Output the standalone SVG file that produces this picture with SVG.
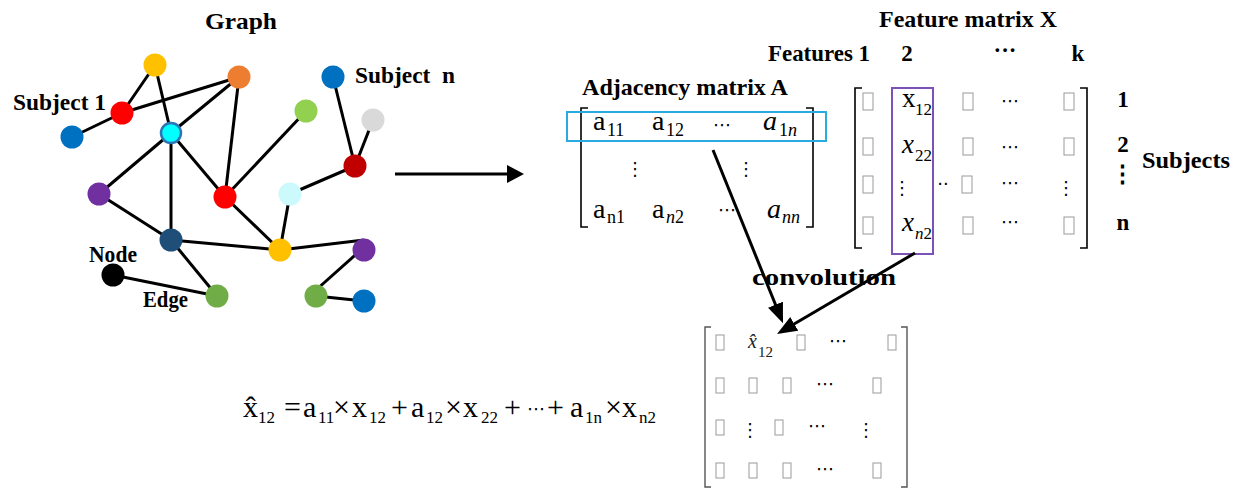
<svg xmlns="http://www.w3.org/2000/svg" width="1239" height="489" viewBox="0 0 1239 489">
<style>
.lbl{font-family:"Liberation Serif",serif;font-weight:bold;font-size:23px;fill:#000}
.m{font-family:"Liberation Serif",serif;font-size:28px;fill:#000}
.ms{font-family:"Liberation Serif",serif;font-size:18px;fill:#000}
.f{font-family:"Liberation Serif",serif;font-size:27px;fill:#000}
.fs{font-family:"Liberation Serif",serif;font-size:17px;fill:#000}
.q{font-family:"Liberation Serif",serif;font-size:30px;fill:#000}
.r{font-family:"Liberation Serif",serif;font-size:20px;fill:#222}
.rs{font-family:"Liberation Serif",serif;font-size:15px;fill:#222}
.dots{font-family:"DejaVu Sans",sans-serif;font-size:18px;fill:#000}
.it{font-style:italic}
.edge{stroke:#000;stroke-width:3;fill:none}
.br{stroke:#000;stroke-width:1.6;fill:none}
.brg{stroke:#555;stroke-width:1.4;fill:none}
.tf{fill:none;stroke:#9a9a9a;stroke-width:1}
.arr{stroke:#000;stroke-width:3;fill:none}
</style>
<defs>
<marker id="ah" markerUnits="userSpaceOnUse" markerWidth="20" markerHeight="20" refX="13" refY="9" orient="auto">
<path d="M0,0 L17,9 L0,18 z" fill="#000"/>
</marker>
<marker id="ah2" markerUnits="userSpaceOnUse" markerWidth="24" markerHeight="22" refX="16" refY="8" orient="auto">
<path d="M0,0 L20,8 L0,16 z" fill="#000"/>
</marker>
</defs>
<rect width="1239" height="489" fill="#fff"/>

<!-- Graph labels -->
<text class="lbl" x="205" y="29" textLength="72" lengthAdjust="spacingAndGlyphs">Graph</text>
<text class="lbl" x="13" y="110" textLength="93" lengthAdjust="spacingAndGlyphs">Subject 1</text>
<text class="lbl" x="355" y="83" textLength="100" lengthAdjust="spacingAndGlyphs" xml:space="preserve">Subject  n</text>
<text class="lbl" x="89" y="262" textLength="48" lengthAdjust="spacingAndGlyphs">Node</text>
<text class="lbl" x="143" y="307" textLength="45" lengthAdjust="spacingAndGlyphs">Edge</text>

<g id="edges">
<line class="edge" x1="155" y1="65" x2="122" y2="113"/>
<line class="edge" x1="155" y1="65" x2="171" y2="133"/>
<line class="edge" x1="122" y1="113" x2="239" y2="77"/>
<line class="edge" x1="122" y1="113" x2="72" y2="137"/>
<line class="edge" x1="239" y1="77" x2="171" y2="133"/>
<line class="edge" x1="239" y1="77" x2="225" y2="197"/>
<line class="edge" x1="171" y1="133" x2="99" y2="194"/>
<line class="edge" x1="171" y1="133" x2="171" y2="240"/>
<line class="edge" x1="171" y1="133" x2="225" y2="197"/>
<line class="edge" x1="306" y1="111" x2="225" y2="197"/>
<line class="edge" x1="333" y1="77" x2="355" y2="166"/>
<line class="edge" x1="373" y1="120" x2="355" y2="166"/>
<line class="edge" x1="355" y1="166" x2="290" y2="194"/>
<line class="edge" x1="290" y1="194" x2="280" y2="250"/>
<line class="edge" x1="225" y1="197" x2="280" y2="250"/>
<line class="edge" x1="99" y1="194" x2="171" y2="240"/>
<line class="edge" x1="171" y1="240" x2="280" y2="250"/>
<line class="edge" x1="171" y1="240" x2="217" y2="296"/>
<line class="edge" x1="113" y1="275" x2="217" y2="296"/>
<line class="edge" x1="280" y1="250" x2="364" y2="240"/>
<line class="edge" x1="362" y1="249" x2="316" y2="290"/>
<line class="edge" x1="316" y1="296" x2="364" y2="301"/>
</g>

<g id="n-yellow-top"><circle cx="155" cy="65" r="11.5" fill="#FFC000"/></g>
<g id="n-orange"><circle cx="239" cy="77" r="11.5" fill="#ED7D31"/></g>
<g id="n-subject1"><circle cx="122" cy="113" r="11.5" fill="#FF0000"/></g>
<g id="n-blue-left"><circle cx="72" cy="137" r="11.5" fill="#0070C0"/></g>
<g id="n-cyan"><circle cx="171" cy="133" r="10" fill="#00FFFF" stroke="#2E75B6" stroke-width="2.5"/></g>
<g id="n-lightgreen"><circle cx="306" cy="111" r="11.5" fill="#92D050"/></g>
<g id="n-subjectn"><circle cx="333" cy="77" r="11.5" fill="#0070C0"/></g>
<g id="n-gray"><circle cx="373" cy="120" r="11.5" fill="#D9D9D9"/></g>
<g id="n-darkred"><circle cx="355" cy="166" r="11.5" fill="#C00000"/></g>
<g id="n-lightcyan"><circle cx="290" cy="194" r="11.5" fill="#CCF9FC"/></g>
<g id="n-red-mid"><circle cx="225" cy="197" r="11.5" fill="#FF0000"/></g>
<g id="n-purple-left"><circle cx="99" cy="194" r="11.5" fill="#7030A0"/></g>
<g id="n-navy"><circle cx="171" cy="240" r="11.5" fill="#1F4E79"/></g>
<g id="n-yellow-bottom"><circle cx="280" cy="250" r="11.5" fill="#FFC000"/></g>
<g id="n-purple-right"><circle cx="364" cy="250" r="11.5" fill="#7030A0"/></g>
<g id="n-black"><circle cx="113" cy="275" r="11.5" fill="#000"/></g>
<g id="n-green-bottom"><circle cx="217" cy="296" r="11.5" fill="#70AD47"/></g>
<g id="n-green-right"><circle cx="316" cy="296" r="11.5" fill="#70AD47"/></g>
<g id="n-blue-br"><circle cx="364" cy="301" r="11.5" fill="#0070C0"/></g>

<!-- Adjacency matrix -->
<g id="adjacency">
<text class="lbl" x="582" y="95" textLength="206" lengthAdjust="spacingAndGlyphs">Adjacency matrix A</text>
<path class="br" d="M588,108 H581 V227 H588"/>
<path class="br" d="M806,108 H813 V227 H806"/>
<rect x="567" y="112" width="259" height="29" fill="none" stroke="#29ABE2" stroke-width="2"/>
<text class="m" x="593" y="130">a</text><text class="ms" x="607" y="136">11</text>
<text class="m" x="652" y="130">a</text><text class="ms" x="666" y="136">12</text>
<text class="dots" x="722" y="131" text-anchor="middle" font-size="22">⋯</text>
<text class="m it" x="763" y="130">a</text><text class="ms" x="779" y="136">1<tspan class="it">n</tspan></text>
<text class="dots" x="635" y="175" text-anchor="middle" font-size="24">⋮</text>
<text class="dots" x="746" y="175" text-anchor="middle" font-size="24">⋮</text>
<text class="m" x="593" y="218">a</text><text class="ms" x="607" y="223">n1</text>
<text class="m" x="652" y="218">a</text><text class="ms it" x="666" y="223">n<tspan font-style="normal">2</tspan></text>
<text class="dots" x="727" y="216" text-anchor="middle" font-size="22">⋯</text>
<text class="m it" x="767" y="218">a</text><text class="ms it" x="782" y="223">nn</text>
</g>

<!-- Feature matrix -->
<g id="feature">
<text class="lbl" x="879" y="27" textLength="178" lengthAdjust="spacingAndGlyphs">Feature matrix X</text>
<text class="lbl" x="768" y="61" textLength="102" lengthAdjust="spacingAndGlyphs">Features 1</text>
<text class="lbl" x="907" y="61" text-anchor="middle">2</text>
<text class="lbl" x="1005" y="58" text-anchor="middle">···</text>
<text class="lbl" x="1078" y="61" text-anchor="middle">k</text>
<path class="br" d="M862,88 H855 V248 H862"/>
<path class="br" d="M1080,88 H1087 V248 H1080"/>
<rect x="892" y="88" width="41" height="166" fill="none" stroke="#7D52B8" stroke-width="2"/>
<rect class="tf" x="863" y="93" width="10" height="17"/>
<rect class="tf" x="963" y="93" width="10" height="17"/>
<rect class="tf" x="1064" y="93" width="10" height="17"/>
<rect class="tf" x="863" y="138" width="10" height="17"/>
<rect class="tf" x="963" y="138" width="10" height="17"/>
<rect class="tf" x="1064" y="138" width="10" height="17"/>
<rect class="tf" x="863" y="176" width="10" height="17"/>
<rect class="tf" x="962" y="176" width="10" height="17"/>
<rect class="tf" x="863" y="217" width="10" height="17"/>
<rect class="tf" x="963" y="217" width="10" height="17"/>
<rect class="tf" x="1064" y="217" width="10" height="17"/>
<text class="f" x="902" y="107">x</text><text class="fs" x="915" y="115">12</text>
<text class="f it" x="902" y="153">x</text><text class="fs" x="915" y="161">22</text>
<text class="f it" x="902" y="231">x</text><text class="fs" x="915" y="239"><tspan class="it">n</tspan>2</text>
<text class="dots" x="1010" y="107" text-anchor="middle" font-size="22">⋯</text>
<text class="dots" x="1010" y="153" text-anchor="middle" font-size="22">⋯</text>
<text class="dots" x="1010" y="189" text-anchor="middle" font-size="22">⋯</text>
<text class="dots" x="1010" y="228" text-anchor="middle" font-size="22">⋯</text>
<text class="dots" x="902" y="194" text-anchor="middle" font-size="22">⋮</text>
<text class="dots" x="943" y="190" text-anchor="middle">··</text>
<text class="dots" x="1066" y="194" text-anchor="middle" font-size="22">⋮</text>
<text class="lbl" x="1123" y="107" text-anchor="middle">1</text>
<text class="lbl" x="1123" y="152" text-anchor="middle">2</text>
<text class="lbl" x="1122" y="181" text-anchor="middle" font-family="DejaVu Sans">⋮</text>
<text class="lbl" x="1123" y="230" text-anchor="middle">n</text>
<text class="lbl" x="1142" y="168" textLength="88" lengthAdjust="spacingAndGlyphs">Subjects</text>
</g>

<!-- Result matrix -->
<g id="result">
<text class="lbl" x="752" y="285" font-size="30" textLength="144" lengthAdjust="spacingAndGlyphs">convolution</text>
<path class="brg" d="M711,327 H705 V487 H711"/>
<path class="brg" d="M901,327 H907 V487 H901"/>
<rect class="tf" x="716" y="335" width="8" height="15"/>
<text class="r it" x="748" y="348">x̂</text><text class="rs" x="758" y="357">12</text>
<rect class="tf" x="797" y="335" width="8" height="15"/>
<text class="dots" x="838" y="347" font-size="14" text-anchor="middle">⋯</text>
<rect class="tf" x="888" y="335" width="8" height="15"/>
<rect class="tf" x="716" y="378" width="8" height="15"/>
<rect class="tf" x="749" y="378" width="8" height="15"/>
<rect class="tf" x="783" y="378" width="8" height="15"/>
<text class="dots" x="825" y="390" font-size="14" text-anchor="middle">⋯</text>
<rect class="tf" x="873" y="378" width="8" height="15"/>
<rect class="tf" x="716" y="420" width="8" height="15"/>
<text class="dots" x="750" y="436" font-size="16" text-anchor="middle">⋮</text>
<rect class="tf" x="775" y="420" width="8" height="15"/>
<text class="dots" x="817" y="432" font-size="14" text-anchor="middle">⋯</text>
<text class="dots" x="866" y="436" font-size="16" text-anchor="middle">⋮</text>
<rect class="tf" x="716" y="463" width="8" height="15"/>
<rect class="tf" x="749" y="463" width="8" height="15"/>
<rect class="tf" x="783" y="463" width="8" height="15"/>
<text class="dots" x="825" y="475" font-size="14" text-anchor="middle">⋯</text>
<rect class="tf" x="873" y="463" width="8" height="15"/>
</g>

<!-- Formula -->
<g id="formula">
<text class="q" x="243" y="417">x̂</text><text class="fs" x="258" y="423">12</text>
<text class="q" x="284" y="417">=</text>
<text class="q" x="303" y="417">a</text><text class="fs" x="318" y="423">11</text>
<text class="q" x="333" y="417">×</text>
<text class="q" x="352" y="417">x</text><text class="fs" x="369" y="423">12</text>
<text class="q" x="391" y="417">+</text>
<text class="q" x="411" y="417">a</text><text class="fs" x="426" y="423">12</text>
<text class="q" x="445" y="417">×</text>
<text class="q" x="463" y="417">x</text><text class="fs" x="481" y="423">22</text>
<text class="q" x="504" y="417">+</text>
<text class="dots" x="536" y="415" text-anchor="middle" font-size="22">⋯</text>
<text class="q" x="547" y="417">+</text>
<text class="q" x="570" y="417">a</text><text class="fs" x="585" y="423">1n</text>
<text class="q" x="605" y="417">×</text>
<text class="q" x="622" y="417">x</text><text class="fs" x="639" y="423">n2</text>
</g>

<g id="connectors">
<line class="arr" x1="395" y1="174" x2="520" y2="174" marker-end="url(#ah)"/>
<line class="arr" x1="713" y1="150" x2="781.5" y2="319.5" marker-end="url(#ah2)"/>
<line class="arr" x1="915" y1="253" x2="780.5" y2="332" marker-end="url(#ah2)"/>
</g>
</svg>
